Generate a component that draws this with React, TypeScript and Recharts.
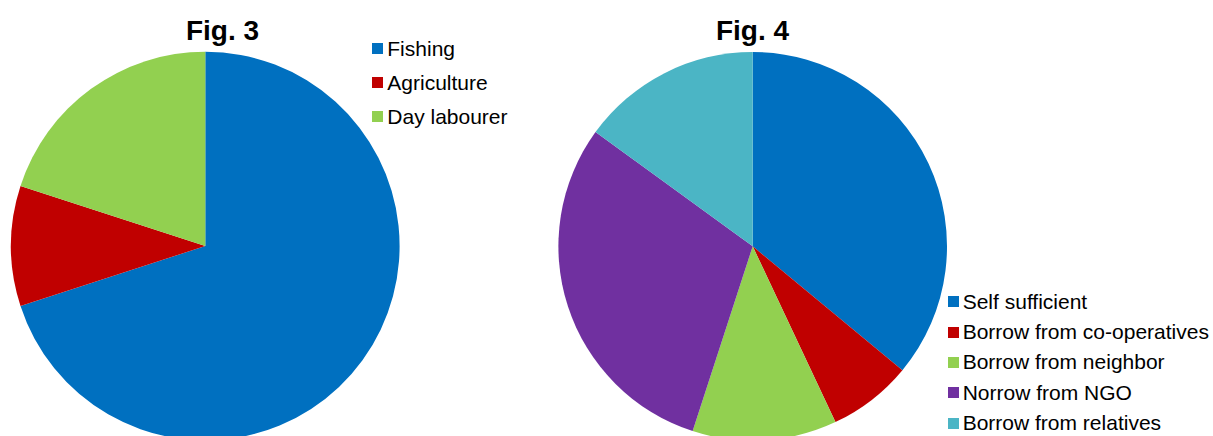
import React from "react";
import { PieChart, Pie, Cell, Legend } from "recharts";

const fig3Categories = ["Fishing", "Agriculture", "Day labourer"];
const fig3Values = [70, 10, 20];
const fig3Colors = ["#0070C0", "#C00000", "#92D050"];

const fig4Categories = [
  "Self sufficient",
  "Borrow from co-operatives",
  "Borrow from neighbor",
  "Norrow from NGO",
  "Borrow from relatives",
];
const fig4Values = [36, 7, 12, 30, 15];
const fig4Colors = ["#0070C0", "#C00000", "#92D050", "#7030A0", "#4BB5C5"];

const fig3Data = fig3Categories.map((name, i) => ({ name, value: fig3Values[i] }));
const fig4Data = fig4Categories.map((name, i) => ({ name, value: fig4Values[i] }));

const FONT = "'Liberation Sans', Arial, Helvetica, sans-serif";

function makeLegend(names: string[], colors: string[], rowH: number) {
  return () => (
    <div style={{ fontFamily: FONT, fontSize: 21, color: "#000" }}>
      {names.map((n, i) => (
        <div
          key={n}
          style={{ display: "flex", alignItems: "center", height: rowH, whiteSpace: "nowrap" }}
        >
          <span
            style={{ display: "inline-block", width: 11, height: 11, background: colors[i], marginRight: 4 }}
          />
          <span>{n}</span>
        </div>
      ))}
    </div>
  );
}

const titleStyle = (cx: number): React.CSSProperties => ({
  position: "absolute",
  left: cx - 100,
  width: 200,
  top: 16.8,
  textAlign: "center",
  fontFamily: FONT,
  fontWeight: "bold",
  fontSize: 28,
  lineHeight: "28px",
  color: "#000",
});

export default function App() {
  return (
    <div style={{ position: "absolute", left: 0, top: 0, width: 1213, height: 436, background: "#fff", overflow: "hidden" }}>
      <div style={{ position: "absolute", left: 0, top: 0 }}>
        <PieChart width={560} height={436} margin={{ top: 0, right: 0, bottom: 0, left: 0 }}>
          <Pie
            data={fig3Data}
            dataKey="value"
            nameKey="name"
            cx={205.3}
            cy={246}
            outerRadius={194.3}
            startAngle={90}
            endAngle={-270}
            stroke="none"
            isAnimationActive={false}
          >
            {fig3Data.map((d, i) => (
              <Cell key={d.name} fill={fig3Colors[i]} />
            ))}
          </Pie>
          <Legend
            layout="vertical"
            align="right"
            verticalAlign="top"
            content={makeLegend(fig3Categories, fig3Colors, 34)}
            wrapperStyle={{ position: "absolute", left: 372.3, top: 31.5, width: 180 }}
          />
        </PieChart>
      </div>
      <div style={{ position: "absolute", left: 0, top: 0 }}>
        <PieChart width={1213} height={436} margin={{ top: 0, right: 0, bottom: 0, left: 0 }}>
          <Pie
            data={fig4Data}
            dataKey="value"
            nameKey="name"
            cx={752.7}
            cy={246.3}
            outerRadius={194.3}
            startAngle={90}
            endAngle={-270}
            stroke="none"
            isAnimationActive={false}
          >
            {fig4Data.map((d, i) => (
              <Cell key={d.name} fill={fig4Colors[i]} />
            ))}
          </Pie>
          <Legend
            layout="vertical"
            align="right"
            verticalAlign="top"
            content={makeLegend(fig4Categories, fig4Colors, 30.4)}
            wrapperStyle={{ position: "absolute", left: 947.7, top: 286.5, width: 265 }}
          />
        </PieChart>
      </div>
      <div style={titleStyle(222.5)}>Fig. 3</div>
      <div style={titleStyle(752.5)}>Fig. 4</div>
    </div>
  );
}
